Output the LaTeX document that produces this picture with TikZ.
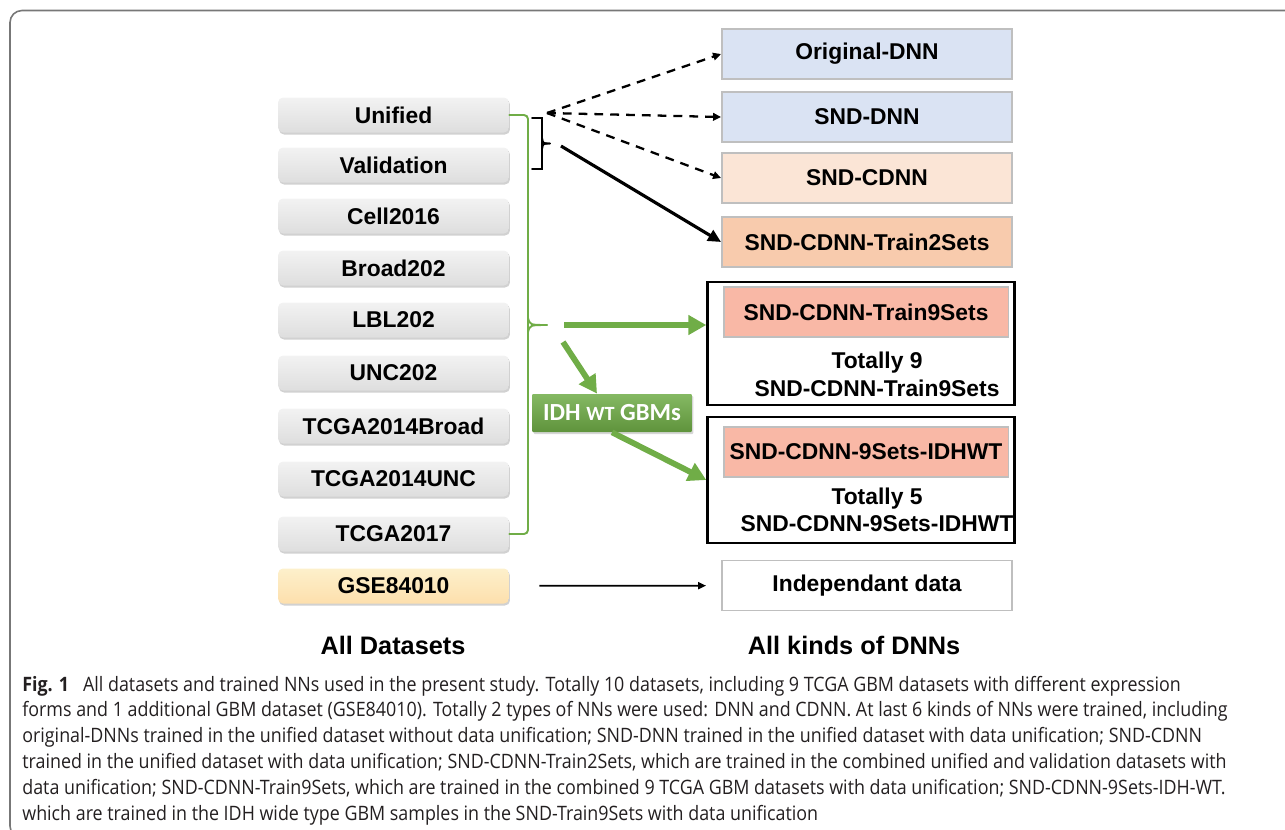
\documentclass[tikz,border=0pt]{standalone}
\usepackage{fontspec}
\setmainfont{Liberation Sans}
\newfontfamily\capfont[FakeStretch=0.9]{Open Sans}
\newfontfamily\idhfont{Carlito}
\usetikzlibrary{arrows.meta,calc,positioning,shadows}
\definecolor{frameedge}{HTML}{777777}
\definecolor{boxedge}{HTML}{BFBFBF}
\definecolor{bluefill}{HTML}{DAE3F3}
\definecolor{peachfill}{HTML}{FBE5D6}
\definecolor{orangefill}{HTML}{F8CBAD}
\definecolor{salmonfill}{HTML}{F9B8A6}
\definecolor{gsefill}{HTML}{FDF0CB}
\definecolor{leafgreen}{HTML}{70AD47}
\definecolor{captext}{HTML}{231F20}
\tikzset{
  dataset/.style   = {rounded corners=0.1cm, minimum width=4.62cm, minimum height=0.70cm,
                      inner sep=0pt, top color=black!5, bottom color=black!13,
                      drop shadow={shadow xshift=0.02cm, shadow yshift=-0.04cm,
                                   fill=black!40, opacity=0.45},
                      font=\bfseries\fontsize{13}{15}\selectfont},
  netbox/.style    = {draw=boxedge, line width=1.1pt, minimum width=5.8cm, minimum height=1.0cm,
                      inner sep=0pt, font=\bfseries\fontsize{13}{15}\selectfont},
  groupframe/.style= {draw=black, line width=1.4pt, minimum width=6.14cm, inner sep=0pt},
  brace line/.style= {line width=1.1pt, line cap=round},
  dash arrow/.style= {-{Triangle[length=1.6mm,width=1.5mm]}, line width=1.3pt, dash pattern=on 5pt off 4pt},
  bold arrow/.style= {-{Triangle[length=2.6mm,width=2.4mm]}, line width=1.8pt},
  green arrow/.style={-{Triangle[length=3.6mm,width=3.8mm]}, line width=3.3pt, draw=leafgreen},
  thin arrow/.style= {-{Triangle[length=1.6mm,width=1.4mm]}, line width=1.0pt},
  heading/.style   = {font=\bfseries\fontsize{14.4}{17}\selectfont},
  bodylabel/.style = {font=\bfseries\fontsize{13}{15.6}\selectfont, align=center},
}

\begin{document}
\begin{tikzpicture}[x=0.02cm, y=-0.02cm]
  \clip (0,0) rectangle (1285,829);

  % ---- outer frame of the figure -----------------------------------------
  \draw[frameedge, line width=0.9pt, rounded corners=0.24cm]
    (1300,10.5) -- (10,10.5) -- (10,838) -- (1300,838);

  % ---- all datasets ------------------------------------------------------
  \foreach \lab/\y/\nm in {Unified/115/unified, Validation/165/valid, Cell2016/216/cell,
      Broad202/268/broad, LBL202/320/lbl, UNC202/373/unc, TCGA2014Broad/426/tcgabroad,
      TCGA2014UNC/479/tcgaunc, TCGA2017/534/tcga17} {
    \node[dataset] (\nm) at (393.5,\y) {\lab};
  }
  \node[dataset, top color=gsefill, bottom color=gsefill!85!orange] (gse) at (393.5,586) {GSE84010};

  % green brace around the nine TCGA sets
  \draw[brace line, leafgreen, rounded corners=0.08cm]
    (unified.east) -- (528,115) -- (528,534) -- (tcga17.east);
  \draw[brace line, leafgreen] (528,318) .. controls (530,325) .. (547,325);
  \draw[brace line, leafgreen] (528,332) .. controls (530,325) .. (547,325);

  % black brace on unified + validation
  \draw[brace line] (532,118) -- (542,118) -- (542,169) -- (532,169);
  \draw[brace line] (542,138) .. controls (543,143.5) .. (550,143.5);
  \draw[brace line] (542,149) .. controls (543,143.5) .. (550,143.5);

  % ---- all kinds of DNNs -------------------------------------------------
  \node[netbox, fill=bluefill]   (odnn)  at (867,54)  {Original-DNN};
  \node[netbox, fill=bluefill]   (sdnn)  at (867,117) {SND-DNN};
  \node[netbox, fill=peachfill]  (scdnn) at (867,178) {SND-CDNN};
  \node[netbox, fill=orangefill] (two)   at (867,242) {SND-CDNN-Train2Sets};

  \node[groupframe, minimum height=2.46cm] (frameA) at (861,343.5) {};
  \node[netbox, fill=salmonfill, minimum width=5.7cm] (nine) at (866,312) {SND-CDNN-Train9Sets};
  \node[bodylabel] (nineall) at (877,374.5) {Totally 9\\SND-CDNN-Train9Sets};

  \node[groupframe, minimum height=2.52cm] (frameB) at (861,480) {};
  \node[netbox, fill=salmonfill, minimum width=5.7cm] (idhnet) at (866,452) {SND-CDNN-9Sets-IDHWT};
  \node[bodylabel] (idhall) at (877,510) {Totally 5\\SND-CDNN-9Sets-IDHWT};

  \node[netbox, fill=white] (indep) at (867,585.5) {Independant data};

  % ---- filter box ---------------------------------------------------------
  \node[rounded corners=0.02cm, minimum width=3.2cm, minimum height=0.76cm, inner sep=0pt,
        top color=leafgreen!85!white, bottom color=leafgreen!85!black,
        drop shadow={shadow xshift=0.03cm, shadow yshift=-0.04cm, fill=black!40, opacity=0.4},
        text=white, font=\idhfont\bfseries\fontsize{14}{16}\selectfont]
    (idh) at (612,413) {IDH {\fontsize{11.5}{14}\selectfont WT} GBMs};

  % ---- arrows -------------------------------------------------------------
  \coordinate (fan)    at (547,113);
  \coordinate (tail)   at (561,146);
  \coordinate (split)  at (564,325);
  \coordinate (split2) at (563,342);

  \draw[dash arrow] (fan) -- (odnn.west);
  \draw[dash arrow] (fan) -- (sdnn.west);
  \draw[dash arrow] (fan) -- (scdnn.west);
  \draw[bold arrow] (tail) -- (two.west);

  \draw[green arrow] (split) -- (split -| frameA.west);
  \draw[green arrow] (split2) -- ([xshift=-0.3cm]idh.north);
  \draw[green arrow] (idh.south) -- (frameB.west);

  \draw[thin arrow, shorten <=0.6cm, shorten >=0.3cm] (gse) -- (indep);

  % ---- headings -----------------------------------------------------------
  \node[heading] (lefthead)  at (393,645) {All Datasets};
  \node[heading] (righthead) at (854,645) {All kinds of DNNs};

  % ---- caption ------------------------------------------------------------
  \node[anchor=north west, inner sep=0pt, align=left, text=captext,
        font=\capfont\fontsize{11.3}{14.74}\selectfont] (caption) at (22,675.5)
  {\textbf{Fig. 1}\hspace{0.7em}All datasets and trained NNs used in the present study. Totally 10 datasets, including 9 TCGA GBM datasets with different expression\\
   forms and 1 additional GBM dataset (GSE84010). Totally 2 types of NNs were used: DNN and CDNN. At last 6 kinds of NNs were trained, including\\
   original-DNNs trained in the unified dataset without data unification; SND-DNN trained in the unified dataset with data unification; SND-CDNN\\
   trained in the unified dataset with data unification; SND-CDNN-Train2Sets, which are trained in the combined unified and validation datasets with\\
   data unification; SND-CDNN-Train9Sets, which are trained in the combined 9 TCGA GBM datasets with data unification; SND-CDNN-9Sets-IDH-WT.\\
   which are trained in the IDH wide type GBM samples in the SND-Train9Sets with data unification};
\end{tikzpicture}
\end{document}
